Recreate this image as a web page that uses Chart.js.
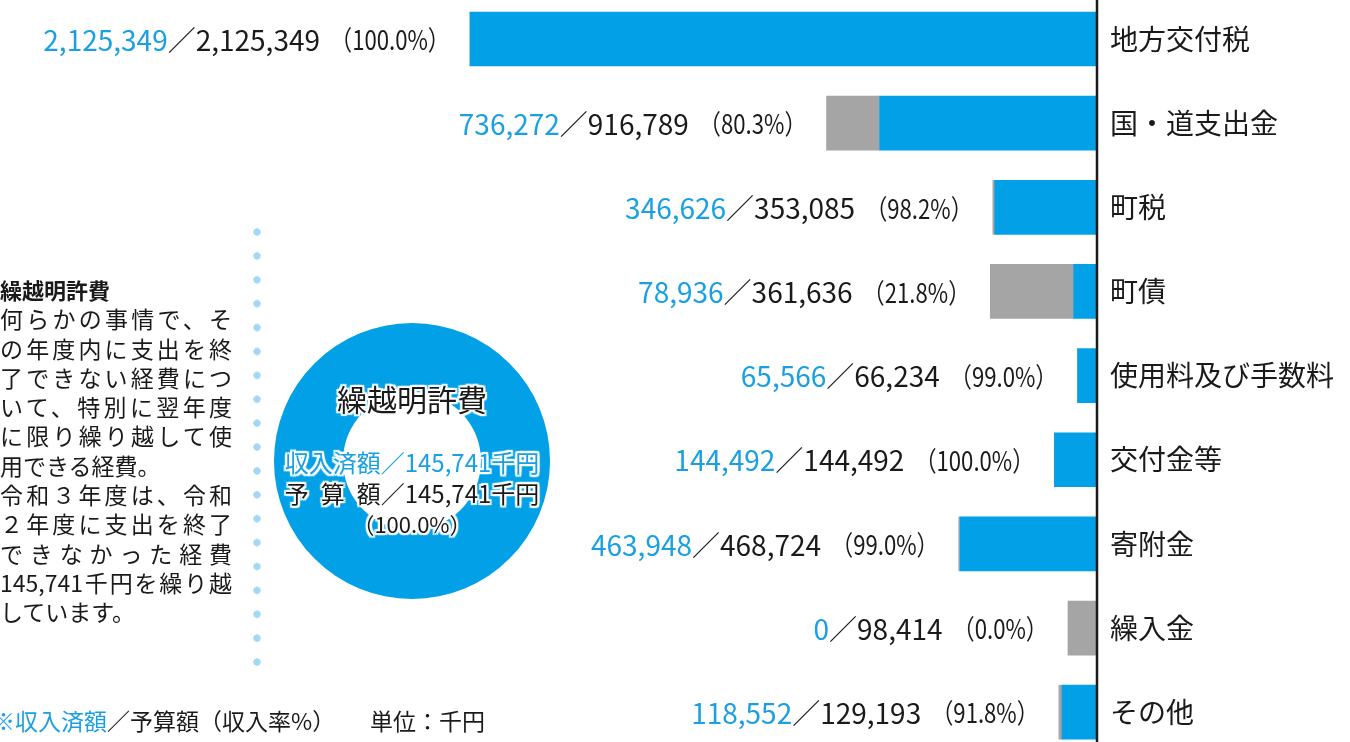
<!DOCTYPE html>
<html lang="ja">
<head>
<meta charset="utf-8">
<title>歳入</title>
<script src="https://cdn.jsdelivr.net/npm/chart.js@4.4.1/dist/chart.umd.min.js"></script>
<style>
    html, body { margin: 0; padding: 0; background: #fff; }
    #wrap { position: relative; width: 1350px; height: 742px; overflow: hidden; font-family: 'Noto Sans CJK JP', 'Noto Sans', sans-serif; color: #1a1a1a; }
    #barChart { position: absolute; left: 0; top: 0; }
    #donutBox { position: absolute; left: 274px; top: 323px; width: 276px; height: 276px; }
    #dots { position: absolute; left: 253px; top: 228px; width: 8px; height: 440px;
        background: radial-gradient(circle at 4px 4px, #a3d7f3 3.4px, transparent 3.9px) 0 0 / 8px 23.9px repeat-y; }
    #note { position: absolute; left: 0; top: 275px; width: 232px; font-size: 23px; line-height: 29.3px; }
    #note div { white-space: nowrap; }
    #note .j { text-align: justify; text-align-last: justify; }
    #note .t { font-weight: bold; font-size: 22px; }
    .ctr { position: absolute; left: 262px; width: 300px; text-align: center; white-space: nowrap;
        text-shadow: 0 0 2px #fff, 0 0 3px #fff, 2px 2px 1px #fff, -2px -2px 1px #fff, 2px -2px 1px #fff, -2px 2px 1px #fff, 0 2px 1px #fff, 0 -2px 1px #fff, 2px 0 1px #fff, -2px 0 1px #fff; }
    .sp { display: inline-block; width: 96px; text-align: justify; text-align-last: justify; }
    .blue { color: #1aa0e2; }
    #foot { position: absolute; left: -8px; top: 703px; font-size: 23px; white-space: nowrap; }
    #unit { position: absolute; left: 370px; top: 703px; font-size: 23px; white-space: nowrap; }
</style>
</head>
<body>
<div id="wrap">
    <canvas id="barChart" width="1350" height="742"></canvas>
    <div id="dots"></div>
    <div id="note"></div>
    <div id="donutBox"><canvas id="donutChart" width="276" height="276"></canvas></div>
    <div class="ctr" style="top:376px;font-size:30px;">繰越明許費</div>
    <div class="ctr blue" style="top:444px;font-size:24px;">収入済額／145,741千円</div>
    <div class="ctr" style="top:475px;font-size:24px;"><span class="sp">予算額</span>／145,741千円</div>
    <div class="ctr" style="top:507px;font-size:22px;">（100.0%）</div>
    <div id="foot"><span class="blue">※収入済額</span>／予算額（収入率%）</div>
    <div id="unit">単位：千円</div>
</div>
<script>
const FONT = "'Noto Sans CJK JP', 'Noto Sans', sans-serif";
const BLUE = '#02a0e6';
const GRAY = '#a5a5a5';

// 歳入の項目
const categories = ['地方交付税', '国・道支出金', '町税', '町債', '使用料及び手数料', '交付金等', '寄附金', '繰入金', 'その他'];
// 収入済額（千円）
const collected = [2125349, 736272, 346626, 78936, 65566, 144492, 463948, 0, 118552];
// 予算額（千円）
const budget = [2125349, 916789, 353085, 361636, 66234, 144492, 468724, 98414, 129193];
// 収入率（%）
const rates = ['100.0', '80.3', '98.2', '21.8', '99.0', '100.0', '99.0', '0.0', '91.8'];

// 繰越明許費
const carryCollected = 145741;
const carryBudget = 145741;

// 説明文の行
const noteLines = [
    ['t', '繰越明許費'],
    ['j', '何らかの事情で、そ'],
    ['j', 'の年度内に支出を終'],
    ['j', '了できない経費につ'],
    ['j', 'いて、特別に翌年度'],
    ['j', 'に限り繰り越して使'],
    ['', '用できる経費。'],
    ['j', '令和３年度は、令和'],
    ['j', '２年度に支出を終了'],
    ['j', 'できなかった経費'],
    ['j', '145,741千円を繰り越'],
    ['', 'しています。']
];

const note = document.getElementById('note');
noteLines.forEach((l) => {
    const d = document.createElement('div');
    if (l[0]) d.className = l[0];
    d.textContent = l[1];
    note.appendChild(d);
});

const remainder = budget.map((b, i) => b - collected[i]);

// ラベル（収入済額／予算額（収入率））と軸線
const labelPlugin = {
    id: 'labels',
    afterDatasetsDraw(chart) {
        const ctx = chart.ctx;
        const xs = chart.scales.x;
        const ys = chart.scales.y;
        ctx.save();
        ctx.textBaseline = 'middle';
        ctx.textAlign = 'left';
        categories.forEach((c, i) => {
            const y = ys.getPixelForValue(i) + 1;
            let x = xs.getPixelForValue(budget[i]) - 20;
            const pct = '（' + rates[i] + '%）';
            ctx.font = '27px ' + FONT;
            const pw = ctx.measureText(pct).width * 0.82;
            x -= pw;
            ctx.save();
            ctx.translate(x, y);
            ctx.scale(0.82, 1);
            ctx.fillStyle = '#1a1a1a';
            ctx.fillText(pct, 0, 0);
            ctx.restore();

            ctx.font = '28px ' + FONT;
            const bTxt = budget[i].toLocaleString('en-US');
            x -= ctx.measureText(bTxt).width + 10;
            ctx.fillStyle = '#1a1a1a';
            ctx.fillText(bTxt, x, y);
            x -= ctx.measureText('／').width;
            ctx.fillText('／', x, y);
            const cTxt = collected[i].toLocaleString('en-US');
            x -= ctx.measureText(cTxt).width;
            ctx.fillStyle = '#1aa0e2';
            ctx.fillText(cTxt, x, y);
        });
        // 縦の軸線
        ctx.strokeStyle = '#1a1a1a';
        ctx.lineWidth = 2.5;
        ctx.beginPath();
        ctx.moveTo(chart.chartArea.right, 0);
        ctx.lineTo(chart.chartArea.right, chart.height);
        ctx.stroke();
        ctx.restore();
    }
};

window.addEventListener('load', () => {
    const ctxB = document.getElementById('barChart').getContext('2d');
    new Chart(ctxB, {
        type: 'bar',
        data: {
            labels: categories,
            datasets: [
                { label: '収入済額', data: collected, backgroundColor: BLUE, barThickness: 54, borderWidth: 0, clip: false },
                { label: '未収', data: remainder, backgroundColor: GRAY, barThickness: 54, borderWidth: 0, clip: false }
            ]
        },
        options: {
            indexAxis: 'y',
            responsive: false,
            animation: false,
            layout: { padding: { left: 470, top: 39, bottom: 28, right: 0 } },
            plugins: { legend: { display: false }, tooltip: { enabled: false } },
            scales: {
                x: {
                    stacked: true, reverse: true, min: 0, max: 2125349, display: false
                },
                y: {
                    stacked: true,
                    position: 'right',
                    offset: false,
                    grid: { display: false, drawTicks: false },
                    border: { display: false },
                    ticks: { padding: 13, color: '#1a1a1a', font: { family: FONT, size: 28 } },
                    afterFit(scale) { scale.width = 253; }
                }
            }
        },
        plugins: [labelPlugin]
    });

    const ctxD = document.getElementById('donutChart').getContext('2d');
    new Chart(ctxD, {
        type: 'doughnut',
        data: {
            labels: ['収入済額', '未収'],
            datasets: [{ data: [carryCollected, carryBudget - carryCollected], backgroundColor: [BLUE, GRAY], borderWidth: 0 }]
        },
        options: {
            responsive: false,
            animation: false,
            cutout: '50%',
            plugins: { legend: { display: false }, tooltip: { enabled: false } }
        }
    });
});
</script>
</body>
</html>
